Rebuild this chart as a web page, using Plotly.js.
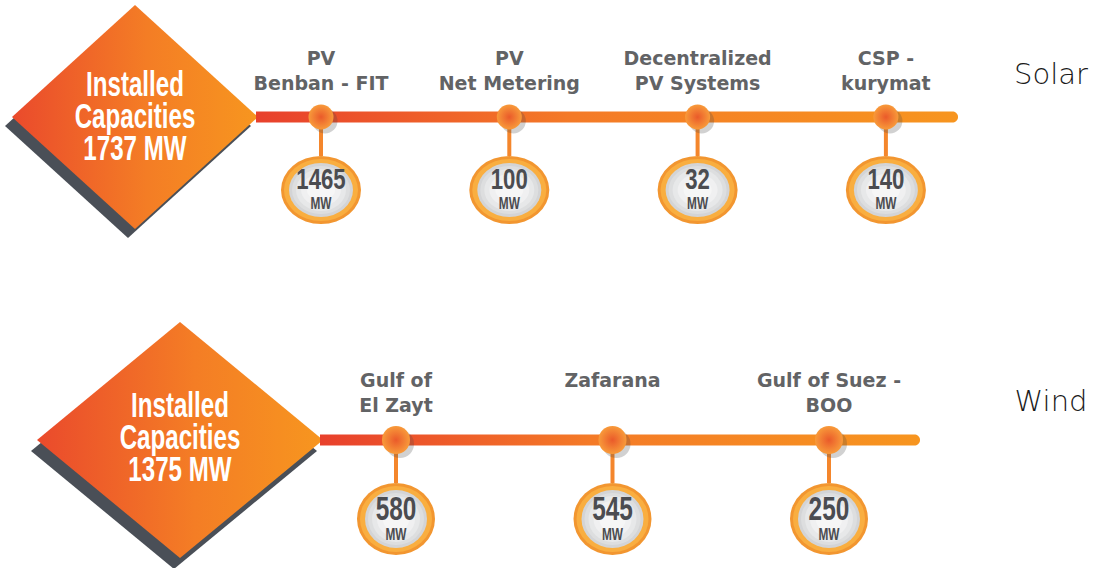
<!DOCTYPE html>
<html><head><meta charset="utf-8">
<script src="https://cdn.plot.ly/plotly-3.0.1.min.js"></script>
<style>
html,body{margin:0;padding:0;background:#fff}
#chart{width:1094px;height:568px}
text.cond{transform-box:fill-box;transform-origin:center;}
</style>
</head><body><div id="chart"></div>
<script>
// ---- data ----
const groupNames = ['Solar', 'Wind'];
const solarCategories = ['PV<br>Benban - FIT', 'PV<br>Net Metering', 'Decentralized<br>PV Systems', 'CSP -<br>kurymat'];
const solarValues = [1465, 100, 32, 140];
const windCategories = ['Gulf of<br>El Zayt', 'Zafarana', 'Gulf of Suez -<br>BOO'];
const windValues = [580, 545, 250];
const unitLabel = 'MW';
const totalTitle = ['Installed', 'Capacities'];

// ---- layout geometry (pixels) ----
const rows = [
  {name: groupNames[0], cats: solarCategories, vals: solarValues,
   dcx: 135, dcy: 117, dhw: 123, dhh: 112, sdx: -7, sdy: 9,
   lx0: 256, lx1: 958, ly: 117, nx0: 321, nstep: 188.3, dot: 25,
   ccy: 190, crx: 40, cry: 34, numDy: 5, numSize: 30,
   labTop: 51, gy: 77, tDy: 5, tSize: 35},
  {name: groupNames[1], cats: windCategories, vals: windValues,
   dcx: 180, dcy: 440, dhw: 143, dhh: 118, sdx: -6, sdy: 11,
   lx0: 320, lx1: 920, ly: 440, nx0: 396, nstep: 216.5, dot: 28,
   ccy: 519, crx: 39, cry: 36, numDy: 7, numSize: 33,
   labTop: 373, gy: 404, tDy: 3, tSize: 35}
];
const condensed = 'Liberation Sans';
const labelFont = 'DejaVu Sans, sans-serif';

const traces = [];
const shapes = [];
const scaleByTrace = {};
const big = (t, px) => '<span style="font-size:' + px + 'px">' + t + '</span>';

rows.forEach(r => {
  const dx = [r.dcx, r.dcx + r.dhw, r.dcx, r.dcx - r.dhw, r.dcx];
  const dy = [r.dcy - r.dhh, r.dcy, r.dcy + r.dhh, r.dcy, r.dcy - r.dhh];
  traces.push({x: dx.map(v => v + r.sdx), y: dy.map(v => v + r.sdy), type: 'scatter', mode: 'none',
    fill: 'toself', fillcolor: '#4a4f57', hoverinfo: 'skip'});
  traces.push({x: dx, y: dy, type: 'scatter', mode: 'none', fill: 'toself',
    fillgradient: {type: 'horizontal', colorscale: [[0, '#ea4a2c'], [0.55, '#f47d25'], [1, '#f7961f']]},
    hoverinfo: 'skip'});
  // timeline bar with rounded right end
  const rr = 5.5, bx = [r.lx0], by = [r.ly - rr];
  bx.push(r.lx1 - rr); by.push(r.ly - rr);
  for (let a = -90; a <= 90; a += 10) {
    const t = a * Math.PI / 180;
    bx.push(r.lx1 - rr + rr * Math.cos(t)); by.push(r.ly + rr * Math.sin(t));
  }
  bx.push(r.lx0); by.push(r.ly + rr); bx.push(r.lx0); by.push(r.ly - rr);
  traces.push({x: bx, y: by, type: 'scatter', mode: 'none', fill: 'toself',
    fillgradient: {type: 'horizontal', colorscale: [[0, '#e8402c'], [0.45, '#f47a27'], [1, '#f7951f']]},
    hoverinfo: 'skip'});

  const nx = r.vals.map((v, i) => r.nx0 + i * r.nstep);
  // stems
  const sx = [], sy = [];
  nx.forEach(x => { sx.push(x, x, null); sy.push(r.ly, r.ccy - r.cry, null); });
  traces.push({x: sx, y: sy, type: 'scatter', mode: 'lines', line: {color: '#f4862c', width: 4}, hoverinfo: 'skip'});
  // dot shadows and dots
  traces.push({x: nx.map(x => x + 4), y: nx.map(() => r.ly + 4), type: 'scatter', mode: 'markers',
    marker: {size: r.dot, color: 'rgba(70,70,70,0.25)'}, hoverinfo: 'skip'});
  traces.push({x: nx, y: nx.map(() => r.ly), type: 'scatter', mode: 'markers',
    marker: {size: r.dot, color: '#f89a3a', gradient: {type: 'radial', color: '#ea5a2a'}, line: {width: 0}},
    hoverinfo: 'skip'});
  // value circles (ellipses)
  const rings = [[0, 0, '#f29630'], [-3, -3, '#f9ae40'], [-8, -7, '#d3d4d6'], [-11, -10, '#dddedf'],
                 [-15, -13, '#e7e8e9'], [-20, -18, '#f0f0f1'], [-26, -23, '#f6f6f6']];
  nx.forEach(x => {
    rings.forEach(([drx, dry, c]) => {
      const rx = r.crx + drx, ry = r.cry + dry;
      shapes.push({type: 'circle', xref: 'x', yref: 'y', x0: x - rx, x1: x + rx, y0: r.ccy - ry, y1: r.ccy + ry,
        fillcolor: c, line: {width: 0}, layer: 'between'});
    });
  });
  // value text (number over unit, one text block)
  scaleByTrace[traces.length] = 0.74;
  traces.push({x: nx, y: nx.map(() => r.ccy + r.numDy), type: 'scatter', mode: 'text',
    text: r.vals.map(v => big(String(v), r.numSize) + '<br>' + unitLabel),
    textposition: 'middle center', textfont: {family: condensed, size: 16, color: '#4b4c50', weight: 'bold'},
    hoverinfo: 'skip'});
  // category labels
  traces.push({x: nx, y: nx.map(() => r.labTop), type: 'scatter', mode: 'text', text: r.cats,
    textposition: 'bottom center', textfont: {family: labelFont, size: 19, color: '#626365', weight: 'bold'},
    hoverinfo: 'skip'});
  // diamond text
  const total = r.vals.reduce((a, b) => a + b, 0);
  const lines = [totalTitle[0], totalTitle[1], total + ' ' + unitLabel];
  scaleByTrace[traces.length] = 0.69;
  traces.push({x: [r.dcx], y: [r.dcy + r.tDy], type: 'scatter', mode: 'text',
    text: [lines.map(l => big(l, r.tSize)).join('<br>')], textposition: 'middle center',
    textfont: {family: condensed, size: 24.5, color: '#ffffff', weight: 'bold'}, hoverinfo: 'skip'});
  // group label
  traces.push({x: [1051], y: [r.gy], type: 'scatter', mode: 'text', text: [r.name], textposition: 'middle center',
    textfont: {family: 'DejaVu Sans, sans-serif', size: 29, color: '#1a1a1a', weight: 200}, hoverinfo: 'skip'});
});

const layout = {
  width: 1094, height: 568, margin: {l: 0, r: 0, t: 0, b: 0},
  paper_bgcolor: '#ffffff', plot_bgcolor: '#ffffff', showlegend: false,
  xaxis: {range: [0, 1094], visible: false, fixedrange: true},
  yaxis: {range: [568, 0], visible: false, fixedrange: true},
  shapes: shapes
};
Plotly.newPlot('chart', traces, layout, {staticPlot: true, displayModeBar: false}).then(gd => {
  // horizontally condense the narrow-font texts
  const groups = gd.querySelectorAll('.scatterlayer .trace');
  groups.forEach((g, i) => {
    const s = scaleByTrace[i];
    if (!s) return;
    g.querySelectorAll('.textpoint text').forEach(t => {
      t.classList.add('cond');
      t.style.transform = 'scaleX(' + s + ')';
    });
  });
});
</script></body></html>
